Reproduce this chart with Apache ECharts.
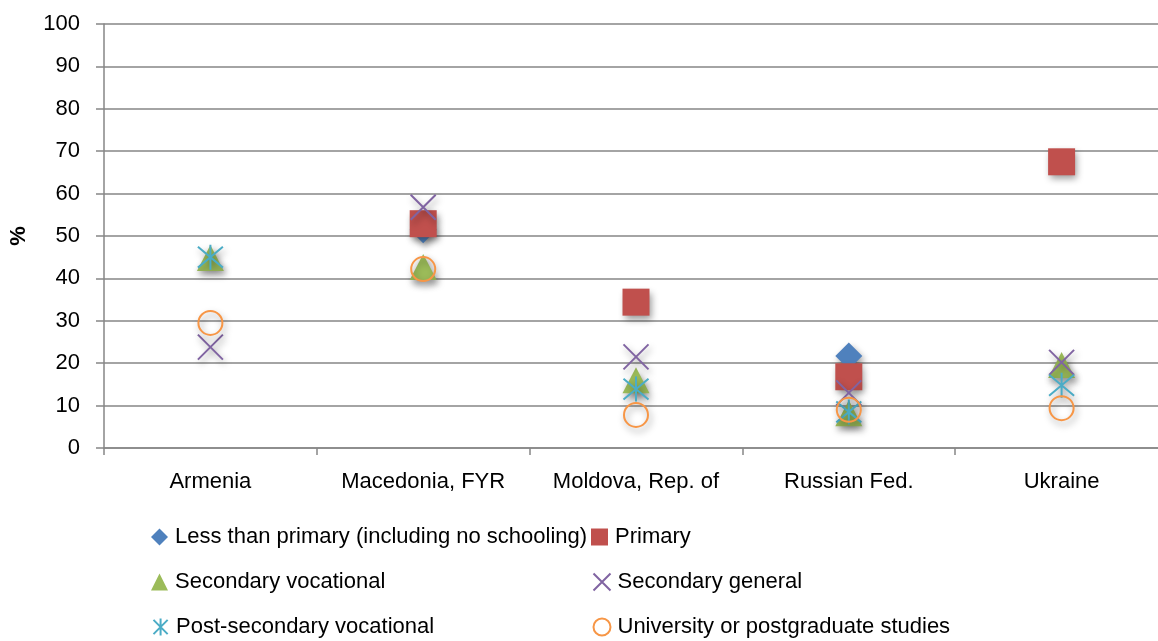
<!DOCTYPE html>
<html>
<head>
<meta charset="utf-8">
<script src="https://cdn.jsdelivr.net/npm/echarts@6/dist/echarts.min.js"></script>
<style>
  html, body { margin: 0; padding: 0; background: #fff; }
  #chart { width: 1158px; height: 641px; }
</style>
</head>
<body>
<div id="chart"></div>
<script>
// Countries along the category axis
const countries = ['Armenia', 'Macedonia, FYR', 'Moldova, Rep. of', 'Russian Fed.', 'Ukraine'];

// Share (%) per education level; null = no value for that country
const lessThanPrimary   = [null, 51.5, null, 21.7, null];
const primary           = [null, 52.9, 34.4, 16.8, 67.5];
const secondaryVoc      = [44.8, 42.7, 16.0, 8.2, 19.6];
const secondaryGeneral  = [23.8, 56.8, 21.5, 13.0, 20.2];
const postSecondaryVoc  = [45.0, null, 13.9, 8.5, 14.8];
const university        = [29.5, 42.2, 7.8, 9.0, 9.4];

const yTicks = [0, 10, 20, 30, 40, 50, 60, 70, 80, 90, 100];

const FONT = '"Liberation Sans", Arial, sans-serif';

const CROSS = 'path://M0,0L10,10M10,0L0,10';
const ASTER = 'path://M0,0L10,10M10,0L0,10M5,-1L5,11';

const shadow = {
  shadowBlur: 7,
  shadowColor: 'rgba(0,0,0,0.4)',
  shadowOffsetX: 2,
  shadowOffsetY: 4
};

function filled(name, data, symbol, size, color) {
  return {
    name, type: 'scatter', data, symbol, symbolSize: size,
    itemStyle: Object.assign({ color, opacity: 1 }, shadow)
  };
}
function stroked(name, data, symbol, size, color, width) {
  return {
    name, type: 'scatter', data, symbol, symbolSize: size,
    itemStyle: Object.assign({ color: 'none', borderColor: color, borderWidth: width, opacity: 1 }, shadow)
  };
}

const series = [
  filled('Less than primary (including no schooling)', lessThanPrimary, 'diamond', [27, 27], '#4F81BD'),
  filled('Primary', primary, 'rect', [27, 27], '#C0504D'),
  filled('Secondary vocational', secondaryVoc, 'triangle', [27, 26], '#9BBB59'),
  stroked('Secondary general', secondaryGeneral, CROSS, [25, 25], '#8064A2', 2),
  stroked('Post-secondary vocational', postSecondaryVoc, ASTER, [25, 25], '#4BACC6', 2),
  stroked('University or postgraduate studies', university, 'circle', [24, 24], '#F79646', 2)
];

const legendText = { fontFamily: FONT, fontSize: 22, color: '#000', padding: [0, 0, 0, 2] };

// one legend entry per box so the two-column layout stays fixed
const legendEntries = [
  { name: 'Less than primary (including no schooling)', icon: 'diamond', left: 151, top: 526 },
  { name: 'Primary', icon: 'rect', left: 591, top: 526 },
  { name: 'Secondary vocational', icon: 'triangle', left: 151, top: 571 },
  { name: 'Secondary general', icon: CROSS, left: 591, top: 571 },
  { name: 'Post-secondary vocational', icon: ASTER, left: 151, top: 616 },
  { name: 'University or postgraduate studies', icon: 'circle', left: 591, top: 616 }
];

const chart = echarts.init(document.getElementById('chart'), null, { renderer: 'canvas' });
chart.setOption({
  animation: false,
  backgroundColor: '#fff',
  grid: { left: 104, top: 24, width: 1064, height: 424, containLabel: false, outerBoundsMode: 'none' },
  xAxis: {
    type: 'category',
    data: countries,
    boundaryGap: true,
    axisLine: { lineStyle: { color: '#868686', width: 1.5 } },
    axisTick: { show: true, interval: 0, length: 7, lineStyle: { color: '#868686', width: 1.5 } },
    axisLabel: { interval: 0, fontFamily: FONT, fontSize: 22, color: '#000', margin: 23 },
    splitLine: { show: false }
  },
  yAxis: {
    type: 'value',
    min: yTicks[0],
    max: yTicks[yTicks.length - 1],
    interval: 10,
    name: '%',
    nameLocation: 'middle',
    nameGap: 74,
    nameRotate: 90,
    nameTextStyle: { fontFamily: FONT, fontSize: 22, color: '#000', fontWeight: 'bold' },
    axisLine: { show: true, lineStyle: { color: '#868686', width: 1.5 } },
    axisTick: { show: true, length: 8, lineStyle: { color: '#868686', width: 1.5 } },
    axisLabel: { fontFamily: FONT, fontSize: 22, color: '#000', margin: 24 },
    splitLine: { show: true, lineStyle: { color: '#868686', width: 1.5 } }
  },
  legend: legendEntries.map(e => ({
    left: e.left, top: e.top, padding: 0, itemGap: 0,
    itemWidth: 17, itemHeight: 17, textStyle: legendText,
    data: [{ name: e.name, icon: e.icon }]
  })),
  series
});
</script>
</body>
</html>
